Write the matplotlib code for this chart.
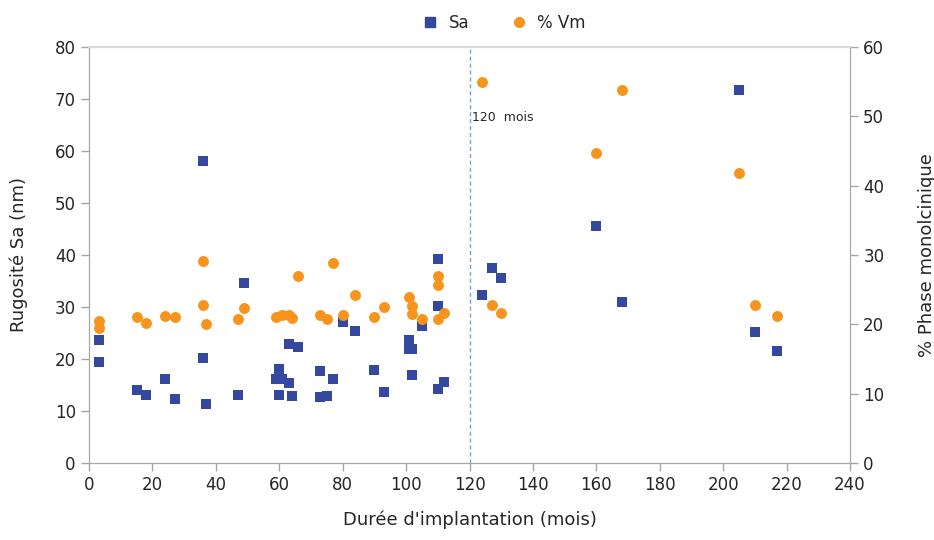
import matplotlib
matplotlib.use("Agg")
import matplotlib.pyplot as plt
from matplotlib.lines import Line2D

# Sa roughness (nm), left axis
sa_months = [3, 3, 15, 18, 24, 27, 36, 36, 37, 47, 49, 60, 59, 61, 63, 60, 64, 63, 66,
             73, 77, 73, 75, 80, 84, 90, 93, 101, 101, 102, 102, 105, 110, 110, 110, 112,
             124, 127, 130, 160, 168, 205, 210, 217]
sa_values = [23.7, 19.5, 14.0, 13.1, 16.2, 12.4, 58.0, 20.2, 11.4, 13.1, 34.7, 18.0, 16.2,
             16.2, 15.3, 13.1, 12.8, 22.8, 22.4, 17.6, 16.2, 12.6, 12.8, 27.2, 25.4, 17.8,
             13.7, 23.7, 21.9, 21.9, 17.0, 26.4, 39.2, 30.1, 14.3, 15.6, 32.4, 37.5, 35.6,
             45.6, 31.0, 71.7, 25.2, 21.6]

# % monoclinic phase, right axis
vm_months = [3, 3, 15, 18, 24, 27, 36, 36, 37, 47, 49, 59, 61, 63, 64, 66, 73, 75, 77, 80,
             84, 90, 93, 101, 102, 102, 105, 110, 110, 110, 112, 124, 127, 130, 160, 168,
             205, 210, 217]
vm_values = [20.5, 19.5, 21.1, 20.2, 21.2, 21.0, 29.2, 22.8, 20.1, 20.8, 22.3, 21.1, 21.3,
             21.4, 20.9, 27.0, 21.4, 20.8, 28.8, 21.4, 24.3, 21.0, 22.5, 23.9, 22.7, 21.5,
             20.7, 27.0, 25.7, 20.7, 21.6, 55.0, 22.8, 21.7, 44.7, 53.8, 41.8, 22.8, 21.2]

BLUE = "#33489e"
ORANGE = "#f7941d"
AXIS = "#a6a6a6"
TXT = "#262626"

plt.rcParams["font.family"] = ["DejaVu Sans"]

fig = plt.figure(figsize=(9.34, 5.40), dpi=100)
ax = fig.add_axes([0.0953, 0.1426, 0.8148, 0.7704])
ax2 = ax.twinx()

ax.scatter(sa_months, sa_values, marker="s", s=60, color=BLUE, linewidths=0, zorder=3)
ax2.scatter(vm_months, vm_values, marker="o", s=62, color=ORANGE, linewidths=0, zorder=3)

ax.axvline(120, color="#6fa8dc", linestyle=(0, (3, 2)), linewidth=1.0, zorder=2)
ax.text(120.7, 66.5, "120  mois", fontsize=9, color=TXT, va="center", ha="left")

ax.set_xlim(0, 240)
ax.set_ylim(0, 80)
ax2.set_ylim(0, 60)
ax.set_xticks(range(0, 241, 20))
ax.set_yticks(range(0, 81, 10))
ax2.set_yticks(range(0, 61, 10))

for a in (ax, ax2):
    for side in ("left", "right", "bottom"):
        a.spines[side].set_color(AXIS)
    a.spines["top"].set_color("#d9d9d9")
    a.spines["top"].set_linewidth(1.5)
    a.tick_params(colors=AXIS, labelcolor=TXT, labelsize=12, length=6, width=1)

ax.set_xlabel("Durée d'implantation (mois)", fontsize=13, color=TXT, labelpad=12)
ax.set_ylabel("Rugosité Sa (nm)", fontsize=13, color=TXT, labelpad=19)
ax2.set_ylabel("% Phase monolcinique", fontsize=13, color=TXT, labelpad=24)

handles = [
    Line2D([], [], marker="s", linestyle="none", color=BLUE, markersize=7),
    Line2D([], [], marker="o", linestyle="none", color=ORANGE, markersize=7),
]
fig.legend(handles, ["Sa", "% Vm"], loc="center", bbox_to_anchor=(0.535, 0.957),
           ncol=2, frameon=False, fontsize=12, handletextpad=0.1, columnspacing=2.0,
           labelcolor=TXT)

fig.savefig("out.png", dpi=100)
